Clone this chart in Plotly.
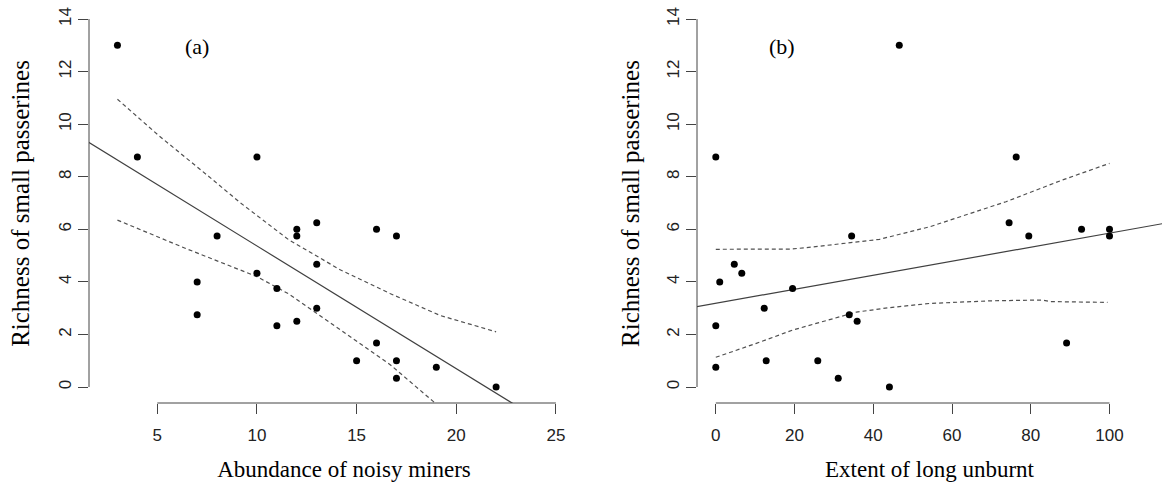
import plotly.graph_objects as go

# ---------------- data: panel (a) ----------------
a_miners = [3, 4, 10, 12, 12, 13, 16, 17, 13, 10, 11, 13, 11, 12, 16, 15, 17, 17, 19, 22, 7, 7, 8]
a_rich = [13, 8.75, 8.75, 6, 5.75, 6.25, 6, 5.75, 4.67, 4.33, 3.75, 3, 2.33, 2.5, 1.67, 1, 1, 0.33,
          0.75, 0, 4, 2.75, 5.75]
a_fit_x = [1.0, 24.0]
a_fit_y = [9.57, -1.17]
a_upper_x = [3, 5.1, 7.6, 9.1, 11.6, 14.2, 16.7, 19.2, 22]
a_upper_y = [10.95, 9.55, 8.0, 7.05, 5.6, 4.45, 3.55, 2.72, 2.1]
a_lower_x = [3, 6.4, 10, 11.6, 14.2, 16.7, 18.8, 22]
a_lower_y = [6.35, 5.28, 4.2, 3.54, 2.17, 0.84, -0.52, -2.6]
a_xticks = [5, 10, 15, 20, 25]

# ---------------- data: panel (b) ----------------
b_unburnt = [0, 46.6, 34.5, 4.7, 6.6, 1.0, 19.5, 12.3, 0, 33.9, 35.9, 0, 12.8, 25.9, 31.1, 44.1,
             76.3, 74.5, 79.5, 92.9, 100, 100, 89.1]
b_rich = [8.75, 13, 5.75, 4.67, 4.33, 4, 3.75, 3, 2.33, 2.75, 2.5, 0.75, 1, 1, 0.33, 0,
          8.75, 6.25, 5.75, 6, 6, 5.75, 1.67]
b_fit_x = [-5, 114]
b_fit_y = [3.05, 6.23]
b_upper_x = [0, 18.8, 23, 34, 41.6, 54.4, 73.7, 88.1, 100]
b_upper_y = [5.24, 5.25, 5.3, 5.49, 5.62, 6.1, 7.05, 7.88, 8.51]
b_lower_x = [0, 10.3, 19.6, 28.9, 35.7, 44.1, 54.4, 70, 83, 85, 99.5]
b_lower_y = [1.13, 1.66, 2.17, 2.55, 2.85, 3.02, 3.18, 3.28, 3.31, 3.25, 3.22]
b_xticks = [0, 20, 40, 60, 80, 100]

y_ticks = [0, 2, 4, 6, 8, 10, 12, 14]

W, H = 1162, 486
AX = "#444444"
LINE = "#404040"
DASH = "#505050"
SERIF = "Liberation Serif, Times New Roman, serif"
SANS = "Liberation Sans, Arial, sans-serif"

fig = go.Figure()


def add_panel(fig, xs, ys, fx, fy, ux, uy, lx, ly, xa, ya):
    fig.add_trace(go.Scatter(x=fx, y=fy, mode="lines", xaxis=xa, yaxis=ya,
                             line=dict(color=LINE, width=1.2), showlegend=False))
    fig.add_trace(go.Scatter(x=ux, y=uy, mode="lines", xaxis=xa, yaxis=ya,
                             line=dict(color=DASH, width=1.2, dash="4px,3px"), showlegend=False))
    fig.add_trace(go.Scatter(x=lx, y=ly, mode="lines", xaxis=xa, yaxis=ya,
                             line=dict(color=DASH, width=1.2, dash="4px,3px"), showlegend=False))
    fig.add_trace(go.Scatter(x=xs, y=ys, mode="markers", xaxis=xa, yaxis=ya,
                             marker=dict(color="black", size=7), showlegend=False))


add_panel(fig, a_miners, a_rich, a_fit_x, a_fit_y, a_upper_x, a_upper_y,
          a_lower_x, a_lower_y, "x", "y")
add_panel(fig, b_unburnt, b_rich, b_fit_x, b_fit_y, b_upper_x, b_upper_y,
          b_lower_x, b_lower_y, "x2", "y2")

ydom = [(H - 403) / H, (H - 4) / H]
yrange = [-0.609, 14.574]

common_x = dict(showgrid=False, zeroline=False, showline=False, ticks="outside",
                ticklen=10, tickwidth=1, tickcolor=AX, ticklabelstandoff=7,
                tickfont=dict(family=SANS, size=17, color="#222222"),
                title_font=dict(family=SERIF, size=23, color="black"),
                automargin=False)
common_y = dict(showgrid=False, zeroline=False, showline=False, ticks="outside",
                ticklen=10, tickwidth=1, tickcolor=AX, tickangle=-90,
                tickvals=y_ticks, range=yrange, domain=ydom,
                tickfont=dict(family=SANS, size=17, color="#222222"),
                title_font=dict(family=SERIF, size=25, color="black"),
                automargin=False)

# x positions: left panel 5 -> 157.3 px, 19.93 px/unit; right panel 0 -> 715.8 px, 3.937 px/unit
fig.update_layout(
    width=W, height=H,
    margin=dict(l=0, r=0, t=0, b=0),
    paper_bgcolor="white", plot_bgcolor="white",
    xaxis=dict(common_x, domain=[89 / W, 599 / W],
               range=[5 + (89 - 157.3) / 19.93, 5 + (599 - 157.3) / 19.93],
               tickvals=a_xticks, anchor="y",
               title=dict(text="Abundance of noisy miners", standoff=16)),
    yaxis=dict(common_y, anchor="x",
               title=dict(text="Richness of small passerines", standoff=19)),
    xaxis2=dict(common_x, domain=[697 / W, 1.0],
                range=[(697 - 715.8) / 3.937, (1162 - 715.8) / 3.937],
                tickvals=b_xticks, anchor="y2",
                title=dict(text="Extent of long unburnt", standoff=16)),
    yaxis2=dict(common_y, anchor="x2",
                title=dict(text="Richness of small passerines", standoff=17)),
)

# L-shaped R-style axis lines spanning first to last tick
shapes = [
    dict(type="line", xref="x", yref="y domain", x0=a_xticks[0], x1=a_xticks[-1], y0=0, y1=0,
         line=dict(color=AX, width=1)),
    dict(type="line", xref="x domain", yref="y", x0=0, x1=0, y0=y_ticks[0], y1=y_ticks[-1],
         line=dict(color=AX, width=1)),
    dict(type="line", xref="x2", yref="y2 domain", x0=b_xticks[0], x1=b_xticks[-1], y0=0, y1=0,
         line=dict(color=AX, width=1)),
    dict(type="line", xref="x2 domain", yref="y2", x0=0, x1=0, y0=y_ticks[0], y1=y_ticks[-1],
         line=dict(color=AX, width=1)),
]
fig.update_layout(shapes=shapes)

fig.add_annotation(text="(a)", xref="paper", yref="paper", x=196.7 / W, y=(H - 46.7) / H,
                   showarrow=False, xanchor="center", yanchor="middle",
                   font=dict(family=SERIF, size=22, color="black"))
fig.add_annotation(text="(b)", xref="paper", yref="paper", x=781.7 / W, y=(H - 46.7) / H,
                   showarrow=False, xanchor="center", yanchor="middle",
                   font=dict(family=SERIF, size=22, color="black"))

fig.write_html("out.html")
